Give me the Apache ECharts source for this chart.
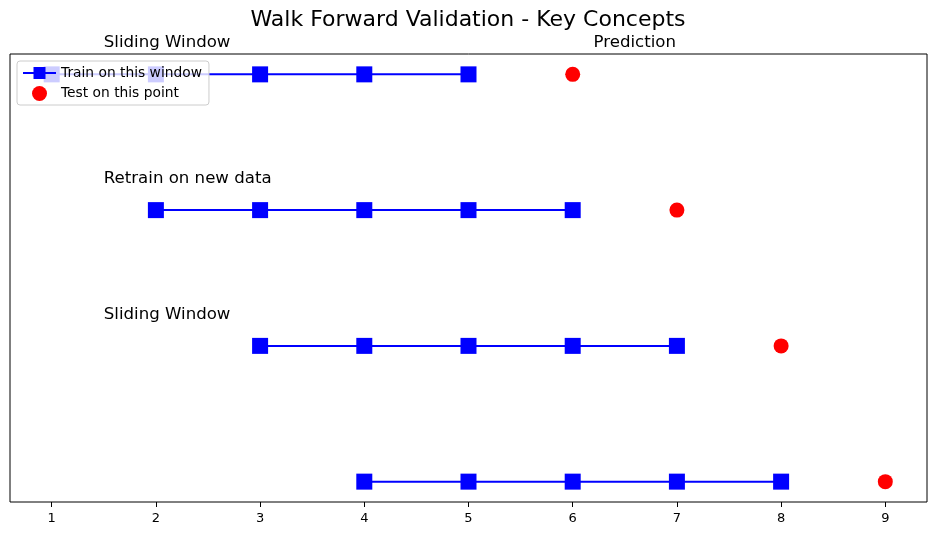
<!DOCTYPE html>
<html>
<head>
<meta charset="utf-8">
<script src="https://cdn.jsdelivr.net/npm/echarts@6/dist/echarts.min.js"></script>
<style>
  html, body { margin: 0; padding: 0; background: #fff; }
  #chart { width: 936px; height: 536px; }
</style>
</head>
<body>
<div id="chart"></div>
<script>
// 每一行：训练窗口 + 测试点
var trainWindows = [
  [1, 2, 3, 4, 5],
  [2, 3, 4, 5, 6],
  [3, 4, 5, 6, 7],
  [4, 5, 6, 7, 8]
];
var testPoints = [6, 7, 8, 9];
var xTicks = [1, 2, 3, 4, 5, 6, 7, 8, 9];
// 注释文字 [x, 行号, 文本]
var notes = [
  [1.5, 0, "Sliding Window"],
  [6.2, 0, "Prediction"],
  [1.5, 1, "Retrain on new data"],
  [1.5, 2, "Sliding Window"]
];

var chart = echarts.init(document.getElementById("chart"));
var FONT = "DejaVu Sans";

var series = [];
trainWindows.forEach(function(win, row) {
  series.push({
    name: "Train on this window",
    type: "line",
    data: win.map(function(x) { return [x, row]; }),
    symbol: "rect",
    symbolSize: 16,
    lineStyle: { color: "#0000ff", width: 2 },
    itemStyle: { color: "#0000ff", opacity: 1 },
    z: 2,
    animation: false
  });
  series.push({
    name: "Test on this point",
    type: "scatter",
    data: [[testPoints[row], row]],
    symbol: "circle",
    symbolSize: 15,
    itemStyle: { color: "#ff0000", opacity: 1 },
    z: 2,
    animation: false
  });
});

series.push({
  name: "notes",
  type: "scatter",
  data: notes.map(function(n) { return [n[0], n[1] - 0.17, n[2]]; }),
  symbolSize: 0,
  silent: true,
  clip: false,
  animation: false,
  itemStyle: { opacity: 1 },
  label: {
    show: true,
    position: [0, 0],
    align: "left",
    verticalAlign: "bottom",
    formatter: function(p) { return p.value[2]; },
    fontFamily: FONT,
    fontSize: 16.6,
    color: "#000",
    opacity: 1
  }
});

var option = {
  animation: false,
  title: {
    text: "Walk Forward Validation - Key Concepts",
    left: "center",
    top: 4,
    textStyle: { fontFamily: FONT, fontSize: 22, fontWeight: "normal", color: "#000" }
  },
  legend: {
    data: ["Train on this window", "Test on this point"],
    orient: "vertical",
    left: 17,
    top: 61,
    padding: [5, 7, 4, 5],
    itemGap: 6,
    itemWidth: 33,
    itemHeight: 15,
    backgroundColor: "rgba(255,255,255,0.8)",
    borderColor: "#cccccc",
    borderWidth: 1,
    borderRadius: 3,
    textStyle: { fontFamily: FONT, fontSize: 13.8, color: "#000" },
    z: 10
  },
  grid: {
    left: 10, right: 9, top: 54, bottom: 34,
    show: true,
    borderColor: "#000",
    borderWidth: 1
  },
  xAxis: {
    type: "value",
    min: 0.6,
    max: 9.4,
    splitLine: { show: false },
    axisLine: { show: false, onZero: false },
    axisTick: {
      show: true,
      customValues: xTicks,
      length: 5,
      lineStyle: { color: "#000" }
    },
    axisLabel: {
      customValues: xTicks,
      fontFamily: FONT,
      fontSize: 13,
      color: "#000",
      margin: 10
    }
  },
  yAxis: {
    type: "value",
    inverse: true,
    min: -0.15,
    max: 3.15,
    show: false,
    splitLine: { show: false }
  },
  series: series
};

chart.setOption(option);
</script>
</body>
</html>
